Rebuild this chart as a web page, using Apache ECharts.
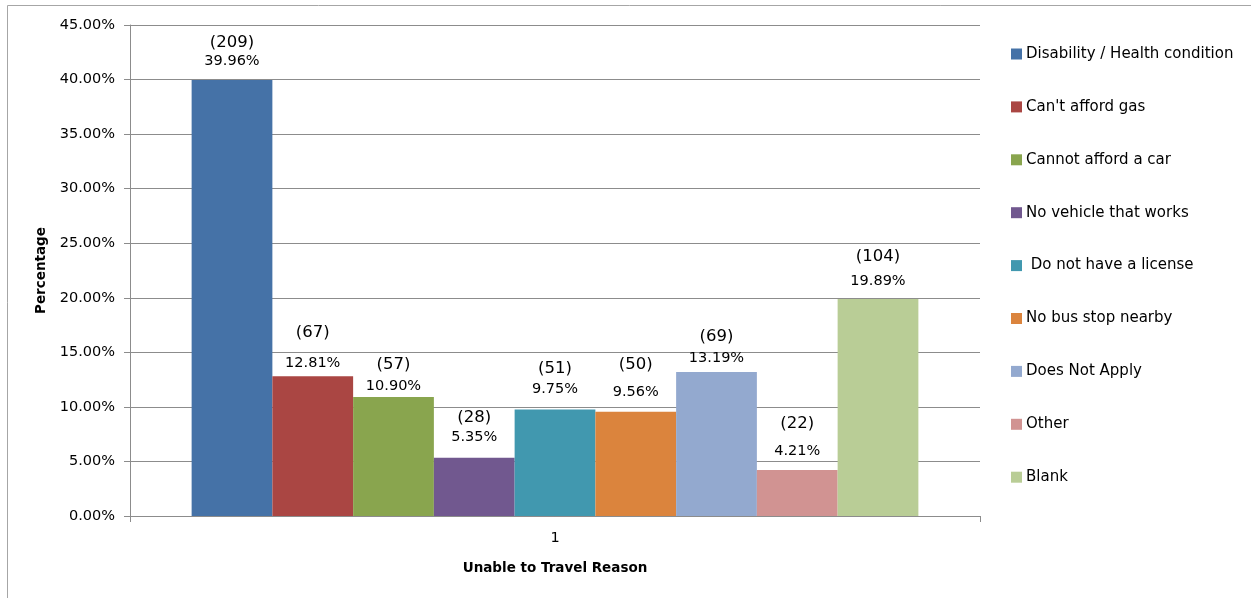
<!DOCTYPE html>
<html>
<head>
<meta charset="utf-8">
<script src="https://cdn.jsdelivr.net/npm/echarts@6/dist/echarts.min.js"></script>
<style>
  html, body { margin: 0; padding: 0; background: #fff; }
  #chart { width: 1251px; height: 598px; }
</style>
</head>
<body>
<div id="chart"></div>
<script>
// Reasons for being unable to travel: respondent counts and share of total
const reasons = [
  'Disability / Health condition',
  "Can't afford gas",
  'Cannot afford a car',
  'No vehicle that works',
  ' Do not have a license',
  'No bus stop nearby',
  'Does Not Apply',
  'Other',
  'Blank'
];
const counts = [209, 67, 57, 28, 51, 50, 69, 22, 104];
const percents = [39.96, 12.81, 10.90, 5.35, 9.75, 9.56, 13.19, 4.21, 19.89];
const categories = ['1'];
const colors = ['#4572A7', '#AA4643', '#89A54E', '#71588F', '#4198AF', '#DB843D', '#93A9CF', '#D19392', '#B9CD96'];

// Hand-placed label layout per bar: spacing between the two label lines,
// and distance of the percentage line above the bar top (px)
const labelLineGap = [18, 31, 21, 20, 21, 28, 21, 27, 24];
const labelLift = [19, 13, 11, 20, 20, 19, 14, 19, 18];

const FONT = 'DejaVu Sans';
const PCT_LINE = 18;

const series = reasons.map((name, i) => ({
  name: name,
  type: 'bar',
  barGap: '0%',
  barCategoryGap: '14.5%',
  itemStyle: { color: colors[i] },
  data: [percents[i] / 100],
  label: {
    show: true,
    position: 'top',
    distance: labelLift[i] - PCT_LINE / 2,
    formatter: () => '{c|(' + counts[i] + ')}\n{p|' + percents[i].toFixed(2) + '%}',
    rich: {
      c: { fontFamily: FONT, fontSize: 16.5, color: '#000', lineHeight: 2 * labelLineGap[i] - PCT_LINE },
      p: { fontFamily: FONT, fontSize: 14.5, color: '#000', lineHeight: PCT_LINE }
    }
  }
}));

const chart = echarts.init(document.getElementById('chart'), null, { renderer: 'canvas' });
chart.setOption({
  animation: false,
  color: colors,
  textStyle: { fontFamily: FONT },
  graphic: [{
    type: 'rect',
    shape: { x: 7.5, y: 5.5, width: 1250, height: 620 },
    style: { fill: null, stroke: '#a6a6a6', lineWidth: 1 },
    silent: true,
    z: -1
  }],
  grid: { left: 130, right: 271, top: 25, bottom: 82 },
  legend: {
    orient: 'vertical',
    left: 1011,
    top: 46,
    padding: 0,
    itemWidth: 11,
    itemHeight: 11,
    itemGap: 36.9,
    icon: 'rect',
    textStyle: { fontFamily: FONT, fontSize: 15, lineHeight: 16, color: '#000', padding: [0, 0, 0, -1] },
    data: reasons
  },
  xAxis: {
    type: 'category',
    data: categories,
    name: 'Unable to Travel Reason',
    nameLocation: 'middle',
    nameGap: 45,
    nameTextStyle: { fontFamily: FONT, fontSize: 13.5, fontWeight: 'bold', color: '#000' },
    axisLine: { lineStyle: { color: '#8c8c8c' } },
    axisTick: { show: true, length: 6, lineStyle: { color: '#8c8c8c' } },
    axisLabel: { fontFamily: FONT, fontSize: 14.5, color: '#000', margin: 15 }
  },
  yAxis: {
    type: 'value',
    min: 0,
    max: 0.45,
    interval: 0.05,
    name: 'Percentage',
    nameLocation: 'middle',
    nameGap: 81,
    nameTextStyle: { fontFamily: FONT, fontSize: 13.5, fontWeight: 'bold', color: '#000' },
    axisLine: { show: true, lineStyle: { color: '#8c8c8c' } },
    axisTick: { show: true, length: 6, lineStyle: { color: '#8c8c8c' } },
    splitLine: { lineStyle: { color: '#8c8c8c' } },
    axisLabel: {
      fontFamily: FONT, fontSize: 14.5, color: '#000', margin: 15,
      formatter: v => (v * 100).toFixed(2) + '%'
    }
  },
  series: series
});
</script>
</body>
</html>
